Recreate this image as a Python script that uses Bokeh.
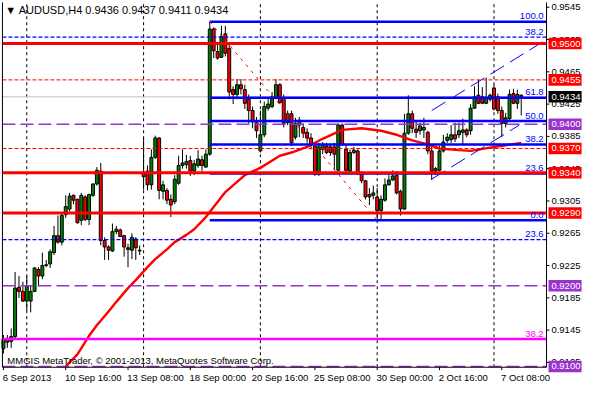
from bokeh.plotting import figure
from bokeh.models import ColumnDataSource, Range1d
from bokeh.core.properties import value
from bokeh.embed import file_html
from bokeh.resources import INLINE

# ---------------- data ----------------
bars = list(range(134))
opens = [0.9122, 0.9134, 0.9131, 0.9137, 0.9198, 0.9193, 0.9181, 0.9181, 0.9193, 0.9220,
         0.9212, 0.9225, 0.9227, 0.9241, 0.9262, 0.9254, 0.9288, 0.9295, 0.9312, 0.9307,
         0.9281, 0.9310, 0.9282, 0.9312, 0.9326, 0.9342, 0.9256, 0.9248, 0.9243, 0.9267,
         0.9269, 0.9262, 0.9247, 0.9244, 0.9258, 0.9243, 0.9339, 0.9342, 0.9325, 0.9359,
         0.9383, 0.9317, 0.9318, 0.9307, 0.9304, 0.9327, 0.9349, 0.9350, 0.9355, 0.9342,
         0.9349, 0.9356, 0.9347, 0.9363, 0.9518, 0.9490, 0.9483, 0.9512, 0.9494, 0.9443,
         0.9437, 0.9449, 0.9443, 0.9431, 0.9417, 0.9402, 0.9367, 0.9387, 0.9420, 0.9422,
         0.9432, 0.9449, 0.9432, 0.9413, 0.9413, 0.9384, 0.9399, 0.9396, 0.9390, 0.9383,
         0.9373, 0.9338, 0.9369, 0.9373, 0.9372, 0.9372, 0.9343, 0.9399, 0.9369, 0.9342,
         0.9365, 0.9367, 0.9339, 0.9330, 0.9313, 0.9312, 0.9310, 0.9293, 0.9306, 0.9325,
         0.9331, 0.9337, 0.9317, 0.9295, 0.9389, 0.9413, 0.9394, 0.9392, 0.9393, 0.9390,
         0.9367, 0.9342, 0.9343, 0.9367, 0.9380, 0.9381, 0.9387, 0.9387, 0.9390, 0.9393,
         0.9392, 0.9420, 0.9436, 0.9434, 0.9426, 0.9431, 0.9445, 0.9434, 0.9417, 0.9401,
         0.9407, 0.9438, 0.9426, 0.9436]
highs = [0.9139, 0.9139, 0.9147, 0.9217, 0.9212, 0.9205, 0.9212, 0.9200, 0.9223, 0.9223,
         0.9241, 0.9232, 0.9245, 0.9274, 0.9287, 0.9289, 0.9312, 0.9315, 0.9313, 0.9308,
         0.9315, 0.9312, 0.9314, 0.9327, 0.9347, 0.9352, 0.9260, 0.9250, 0.9277, 0.9274,
         0.9271, 0.9263, 0.9252, 0.9265, 0.9260, 0.9250, 0.9384, 0.9349, 0.9369, 0.9386,
         0.9384, 0.9330, 0.9321, 0.9313, 0.9337, 0.9361, 0.9369, 0.9362, 0.9361, 0.9356,
         0.9368, 0.9361, 0.9369, 0.9527, 0.9520, 0.9502, 0.9522, 0.9522, 0.9500, 0.9447,
         0.9456, 0.9456, 0.9449, 0.9437, 0.9422, 0.9409, 0.9417, 0.9428, 0.9432, 0.9440,
         0.9456, 0.9451, 0.9437, 0.9417, 0.9417, 0.9408, 0.9409, 0.9401, 0.9395, 0.9389,
         0.9377, 0.9377, 0.9378, 0.9377, 0.9375, 0.9377, 0.9401, 0.9401, 0.9375, 0.9369,
         0.9372, 0.9369, 0.9342, 0.9331, 0.9321, 0.9324, 0.9321, 0.9312, 0.9333, 0.9337,
         0.9343, 0.9342, 0.9319, 0.9413, 0.9436, 0.9417, 0.9405, 0.9402, 0.9408, 0.9392,
         0.9372, 0.9347, 0.9373, 0.9387, 0.9389, 0.9399, 0.9402, 0.9402, 0.9407, 0.9395,
         0.9425, 0.9447, 0.9455, 0.9446, 0.9458, 0.9438, 0.9449, 0.9438, 0.9422, 0.9414,
         0.9443, 0.9444, 0.9443, 0.9437]
lows = [0.9116, 0.9123, 0.9123, 0.9135, 0.9185, 0.9180, 0.9169, 0.9167, 0.9192, 0.9199,
        0.9208, 0.9223, 0.9222, 0.9238, 0.9252, 0.9250, 0.9284, 0.9292, 0.9301, 0.9277,
        0.9275, 0.9280, 0.9275, 0.9310, 0.9324, 0.9250, 0.9232, 0.9232, 0.9242, 0.9264,
        0.9260, 0.9236, 0.9223, 0.9233, 0.9232, 0.9238, 0.9319, 0.9318, 0.9319, 0.9357,
        0.9307, 0.9307, 0.9301, 0.9285, 0.9301, 0.9325, 0.9345, 0.9345, 0.9336, 0.9337,
        0.9346, 0.9342, 0.9346, 0.9361, 0.9482, 0.9480, 0.9482, 0.9484, 0.9431, 0.9425,
        0.9431, 0.9437, 0.9419, 0.9401, 0.9395, 0.9383, 0.9365, 0.9384, 0.9417, 0.9420,
        0.9431, 0.9425, 0.9396, 0.9399, 0.9373, 0.9381, 0.9384, 0.9383, 0.9377, 0.9369,
        0.9336, 0.9336, 0.9363, 0.9363, 0.9361, 0.9343, 0.9342, 0.9373, 0.9339, 0.9339,
        0.9363, 0.9337, 0.9327, 0.9307, 0.9300, 0.9307, 0.9281, 0.9282, 0.9304, 0.9324,
        0.9330, 0.9313, 0.9287, 0.9294, 0.9387, 0.9389, 0.9383, 0.9387, 0.9383, 0.9363,
        0.9331, 0.9337, 0.9342, 0.9365, 0.9377, 0.9377, 0.9378, 0.9383, 0.9375, 0.9384,
        0.9387, 0.9419, 0.9425, 0.9425, 0.9425, 0.9428, 0.9417, 0.9413, 0.9384, 0.9396,
        0.9405, 0.9425, 0.9419, 0.9411]
closes = [0.9134, 0.9130, 0.9137, 0.9197, 0.9193, 0.9181, 0.9200, 0.9193, 0.9222, 0.9212,
          0.9225, 0.9226, 0.9242, 0.9262, 0.9254, 0.9287, 0.9298, 0.9311, 0.9306, 0.9278,
          0.9312, 0.9282, 0.9313, 0.9326, 0.9343, 0.9256, 0.9248, 0.9244, 0.9267, 0.9270,
          0.9261, 0.9248, 0.9245, 0.9260, 0.9247, 0.9244, 0.9335, 0.9325, 0.9359, 0.9383,
          0.9318, 0.9325, 0.9306, 0.9300, 0.9332, 0.9349, 0.9352, 0.9354, 0.9342, 0.9351,
          0.9357, 0.9349, 0.9363, 0.9518, 0.9491, 0.9482, 0.9509, 0.9488, 0.9440, 0.9437,
          0.9449, 0.9444, 0.9426, 0.9417, 0.9403, 0.9392, 0.9387, 0.9422, 0.9425, 0.9434,
          0.9449, 0.9427, 0.9401, 0.9402, 0.9377, 0.9401, 0.9405, 0.9389, 0.9383, 0.9375,
          0.9338, 0.9372, 0.9375, 0.9365, 0.9365, 0.9363, 0.9399, 0.9375, 0.9343, 0.9365,
          0.9368, 0.9339, 0.9330, 0.9310, 0.9310, 0.9315, 0.9293, 0.9307, 0.9325, 0.9331,
          0.9336, 0.9315, 0.9295, 0.9389, 0.9413, 0.9395, 0.9390, 0.9398, 0.9396, 0.9367,
          0.9342, 0.9345, 0.9367, 0.9378, 0.9384, 0.9387, 0.9382, 0.9392, 0.9393, 0.9387,
          0.9420, 0.9434, 0.9426, 0.9426, 0.9432, 0.9436, 0.9419, 0.9417, 0.9401, 0.9408,
          0.9437, 0.9426, 0.9437, 0.9434]

ma_bars = [16, 19, 22, 24, 27, 29, 32, 34, 37, 39, 42, 44, 47, 49, 52, 57, 62, 66, 71, 74,
           78, 82, 87, 92, 97, 101, 105, 109, 112, 117, 120, 125, 129, 133]
ma_vals = [0.9100, 0.9115, 0.9138, 0.9151, 0.9168, 0.9180, 0.9197, 0.9207, 0.9223, 0.9233,
           0.9245, 0.9254, 0.9263, 0.9270, 0.9285, 0.9316, 0.9337, 0.9346, 0.9361, 0.9365,
           0.9372, 0.9382, 0.9393, 0.9395, 0.9392, 0.9387, 0.9380, 0.9375, 0.9370, 0.9368,
           0.9367, 0.9371, 0.9374, 0.9377]

date_ticks = [0, 16, 32, 48, 64, 80, 96, 112, 128]
date_labels = ["6 Sep 2013", "10 Sep 16:00", "13 Sep 08:00", "18 Sep 00:00", "20 Sep 16:00",
               "25 Sep 08:00", "30 Sep 00:00", "2 Oct 16:00", "7 Oct 08:00"]
price_ticks = [0.9105, 0.9145, 0.9185, 0.9225, 0.9265, 0.9305, 0.9345, 0.9385, 0.9425,
               0.9465, 0.9505, 0.9545]
price_tick_labels = ["0.9105", "0.9145", "0.9185", "0.9225", "0.9265", "0.9305", "0.9345",
                     "0.9385", "0.9425", "0.9465", "0.9505", "0.9545"]
week_separators = [6, 36, 66, 96, 126]

red_solid_levels = [0.9500, 0.9340, 0.9290]
red_dashed_levels = [0.9455, 0.9370]
purple_levels = [0.9400, 0.9200, 0.9100]
bid_price = 0.9434

fib_start_bar = 53
fib_pcts = ["100.0", "61.8", "50.0", "38.2", "23.6", "0.0"]
fib_prices = [0.9527, 0.9433, 0.9404, 0.9375, 0.9339, 0.9281]
ext_pcts = ["38.2", "23.6"]
ext_prices = [0.9508, 0.9257]
magenta_pct = "38.2"
magenta_price = 0.9134

fib_diag_bars = [53, 96]
fib_diag_prices = [0.9527, 0.9281]
chan_up_bars = [110, 138.5]
chan_up_prices = [0.9417, 0.9502]
chan_lo_bars = [110, 132.5]
chan_lo_prices = [0.9332, 0.9399]

box_prices = [0.9500, 0.9455, 0.9434, 0.9400, 0.9370, 0.9340, 0.9290, 0.9200, 0.9100]
box_texts = ["0.9500", "0.9455", "0.9434", "0.9400", "0.9370", "0.9340", "0.9290", "0.9200", "0.9100"]
box_colors = ["#FF0000", "#FF0000", "#000000", "#9933CC", "#FF0000", "#FF0000", "#FF0000",
              "#9933CC", "#9933CC"]

header_text = "\u25bc AUDUSD,H4  0.9436 0.9437 0.9411 0.9434"
copyright_text = "MMGIS MetaTrader, \u00a9 2001-2013, MetaQuotes Software Corp."

# ---------------- layout helpers (reference pixel -> data) ----------------
X0, X1 = -0.25, 139.5          # chart area (bars)
Y0, Y1 = 0.909905, 0.955095    # chart area (price)
PX = (X1 - X0) / 559.0         # bars per reference pixel
PP = (Y1 - Y0) / 380.0         # price per reference pixel


def xd(px):
    return X0 + (px - 2) * PX


def yd(py):
    return Y1 - (py - 2) * PP


FONT = value("Liberation Sans")
FS = value("9.5px")
BULL = "#008000"
BEAR = "#FF0000"
BLUE = "#0000FF"
PURPLE = "#9933CC"

p = figure(width=584, height=384, output_backend="svg", toolbar_location=None,
           x_range=Range1d(xd(0), xd(600)), y_range=Range1d(yd(400), yd(0)),
           min_border=0, min_border_left=0, min_border_right=0, min_border_top=0,
           min_border_bottom=0, x_axis_location=None, y_axis_location=None,
           background_fill_color="white", border_fill_color="white",
           outline_line_color=None)
p.grid.visible = False

# weekly separators
p.segment(x0=week_separators, y0=[Y0] * len(week_separators), x1=week_separators,
          y1=[Y1] * len(week_separators), line_color="black", line_width=1, line_dash="3 3")

# bid line (under everything else)
p.segment(x0=[X0], y0=[bid_price], x1=[X1], y1=[bid_price], line_color="#C0C0C0", line_width=1)

# candles
tops = [max(o, c) for o, c in zip(opens, closes)]
bots = [min(o, c) for o, c in zip(opens, closes)]
cols = [BULL if c >= o else BEAR for o, c in zip(opens, closes)]
src = ColumnDataSource(dict(i=bars, h=highs, l=lows, top=tops, bot=bots, col=cols))
p.segment(x0="i", y0="h", x1="i", y1="l", source=src, line_color="black", line_width=1)
p.vbar(x="i", width=0.75, top="top", bottom="bot", fill_color="col", line_color="black",
       line_width=1, source=src)

# moving average
p.line(ma_bars, ma_vals, line_color="#FF0000", line_width=2.4)

# fibonacci retracement
n = len(fib_prices)
p.segment(x0=[fib_start_bar] * n, y0=fib_prices, x1=[X1] * n, y1=fib_prices,
          line_color=BLUE, line_width=2.5)
p.line(fib_diag_bars, fib_diag_prices, line_color="#FF0000", line_width=1, line_dash="3 5")

# channel
p.line(chan_up_bars, chan_up_prices, line_color=BLUE, line_width=1, line_dash="16 7")
p.line(chan_lo_bars, chan_lo_prices, line_color=BLUE, line_width=1, line_dash="16 7")


def hlines(levels, **kw):
    k = len(levels)
    p.segment(x0=[X0] * k, y0=levels, x1=[X1] * k, y1=levels, **kw)


hlines(ext_prices, line_color=BLUE, line_width=1.3, line_dash="4 2")
hlines(red_dashed_levels, line_color="#FF0000", line_width=1, line_dash="4 2")
hlines(purple_levels, line_color=PURPLE, line_width=1.5, line_dash="13 5")
hlines([magenta_price], line_color="#FF00FF", line_width=2.5)
hlines(red_solid_levels, line_color="#FF0000", line_width=3)

# level texts
lvl_txt = fib_pcts + ext_pcts
lvl_pr = fib_prices + ext_prices
p.text(x=[xd(558)] * len(lvl_txt), y=[v + 2.5 * PP for v in lvl_pr], text=lvl_txt,
       text_font=FONT, text_font_size=FS, text_color=BLUE, text_align="right",
       text_baseline="bottom")
p.text(x=[xd(558)], y=[magenta_price + 2.5 * PP], text=[magenta_pct], text_font=FONT,
       text_font_size=FS, text_color="#FF00FF", text_align="right", text_baseline="bottom")

# chart frame: left, bottom and right edges
p.segment(x0=[X0, X0, X1], y0=[Y1, Y0, Y0], x1=[X0, X1, X1], y1=[Y0, Y0, Y1],
          line_color="black", line_width=1)

# price scale: ticks and labels
k = len(price_ticks)
p.segment(x0=[X1] * k, y0=price_ticks, x1=[xd(564)] * k, y1=price_ticks, line_color="black",
          line_width=1)
p.text(x=[xd(566)] * k, y=price_ticks, text=price_tick_labels, text_font=FONT,
       text_font_size=FS, text_color="black", text_align="left", text_baseline="middle")

# price boxes on the scale
m = len(box_prices)
p.rect(x=[xd(580)] * m, y=box_prices, width=34 * PX, height=12 * PP, fill_color=box_colors,
       line_color=None)
p.text(x=[xd(566)] * m, y=box_prices, text=box_texts, text_font=FONT, text_font_size=FS,
       text_color="white", text_align="left", text_baseline="middle")

# time scale: ticks and labels
d = len(date_ticks)
p.segment(x0=date_ticks, y0=[Y0] * d, x1=date_ticks, y1=[yd(385)] * d, line_color="black",
          line_width=1)
p.text(x=[t - 0.2 for t in date_ticks], y=[yd(393)] * d, text=date_labels, text_font=FONT,
       text_font_size=FS, text_color="black", text_align="left", text_baseline="middle")

# header and copyright
p.text(x=[xd(5)], y=[yd(10)], text=[header_text], text_font=FONT, text_font_size=value("11px"),
       text_color="black", text_align="left", text_baseline="middle")
p.text(x=[xd(7)], y=[yd(375)], text=[copyright_text], text_font=FONT, text_font_size=FS,
       text_color="black", text_align="left", text_baseline="middle")

open("out.html", "w").write(file_html(p, INLINE))
